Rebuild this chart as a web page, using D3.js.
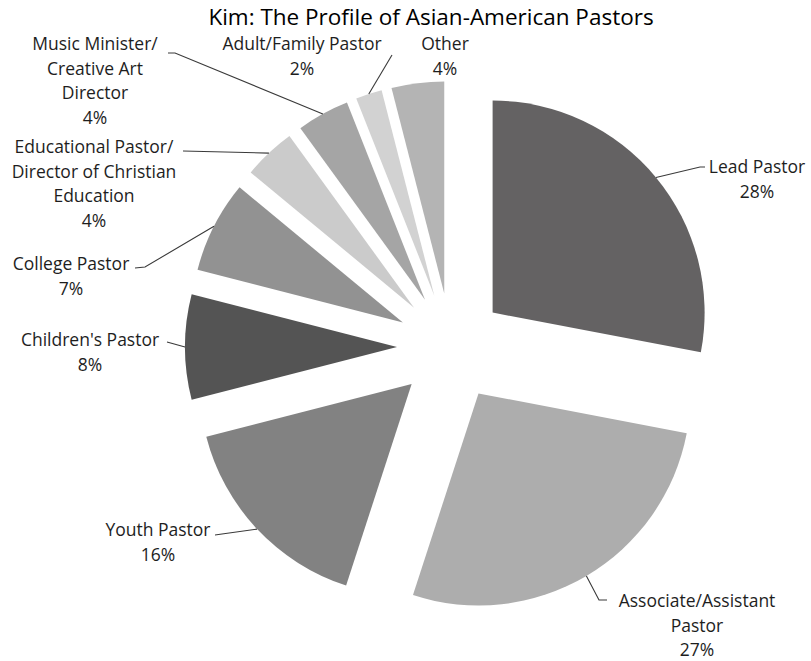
<!DOCTYPE html>
<html>
<head>
<meta charset="utf-8">
<script src="https://cdn.jsdelivr.net/npm/d3@7"></script>
<style>
  html, body { margin: 0; padding: 0; background: #fff; }
  svg { display: block; }
</style>
</head>
<body>
<svg id="chart" width="811" height="661"></svg>
<script>
// ---- data ----
const title = "Kim: The Profile of Asian-American Pastors";
const categories = [
  "Lead Pastor",
  "Associate/Assistant Pastor",
  "Youth Pastor",
  "Children's Pastor",
  "College Pastor",
  "Educational Pastor/Director of Christian Education",
  "Music Minister/Creative Art Director",
  "Adult/Family Pastor",
  "Other"
];
const values = [28, 27, 16, 8, 7, 4, 4, 2, 4];
const labelLines = [
  ["Lead Pastor"],
  ["Associate/Assistant", "Pastor"],
  ["Youth Pastor"],
  ["Children's Pastor"],
  ["College Pastor"],
  ["Educational Pastor/", "Director of Christian", "Education"],
  ["Music Minister/", "Creative Art", "Director"],
  ["Adult/Family Pastor"],
  ["Other"]
];

// ---- styles / layout ----
const colors = ["#646263", "#adadad", "#828282", "#545454", "#929292",
                "#cbcbcb", "#a5a5a5", "#d2d2d2", "#b4b4b4"];
const cx = 451, cy = 347, R = 212, explode = 54;
const lineH = 24.5;
// label anchor (center x, first line center y) and leader waypoints after the arc point
const labelLayout = [
  { x: 757, y: 167, leader: [[700, 167], [705, 167]] },
  { x: 697, y: 601, leader: [[599, 600], [607, 600]] },
  { x: 158, y: 530, leader: [[222, 534], [215, 535]] },
  { x: 90,  y: 340, leader: [[167, 342]] },
  { x: 71,  y: 264, leader: [[145, 267], [135, 268]] },
  { x: 94,  y: 147, leader: [[183, 151]] },
  { x: 95,  y: 44,  leader: [[175, 53], [168, 53]] },
  { x: 302, y: 44,  leader: [[392, 55]] },
  { x: 445, y: 44,  leader: null }
];

const svg = d3.select("#chart");
const font = "'Open Sans', Lato, sans-serif";

svg.append("text")
  .attr("x", 431).attr("y", 17)
  .attr("text-anchor", "middle")
  .attr("dy", "0.35em")
  .style("font-family", "'Open Sans', sans-serif")
  .style("font-size", "22.5px")
  .attr("fill", "#000")
  .text(title);

const pie = d3.pie().sort(null).value(d => d)(values);
const arc = d3.arc().innerRadius(0).outerRadius(R);

const g = svg.append("g").attr("transform", `translate(${cx},${cy})`);

pie.forEach((p, i) => {
  const mid = (p.startAngle + p.endAngle) / 2;
  const ox = explode * Math.sin(mid), oy = -explode * Math.cos(mid);
  g.append("path")
    .attr("d", arc(p))
    .attr("transform", `translate(${ox},${oy})`)
    .attr("fill", colors[i]);

  const L = labelLayout[i];
  if (L.leader) {
    const start = [cx + ox + R * Math.sin(mid), cy + oy - R * Math.cos(mid)];
    const pts = [start].concat(L.leader);
    svg.append("path")
      .attr("d", d3.line()(pts))
      .attr("fill", "none")
      .attr("stroke", "#3a3a3a")
      .attr("stroke-width", 1.1);
  }
  const lines = labelLines[i].concat([values[i] + "%"]);
  const t = svg.append("text")
    .attr("text-anchor", "middle")
    .style("font-family", font)
    .style("font-size", "17.5px")
    .attr("fill", "#1e1e1e");
  lines.forEach((ln, k) => {
    t.append("tspan")
      .attr("x", L.x)
      .attr("y", L.y + k * lineH)
      .attr("dy", "0.35em")
      .text(ln);
  });
});
</script>
</body>
</html>
